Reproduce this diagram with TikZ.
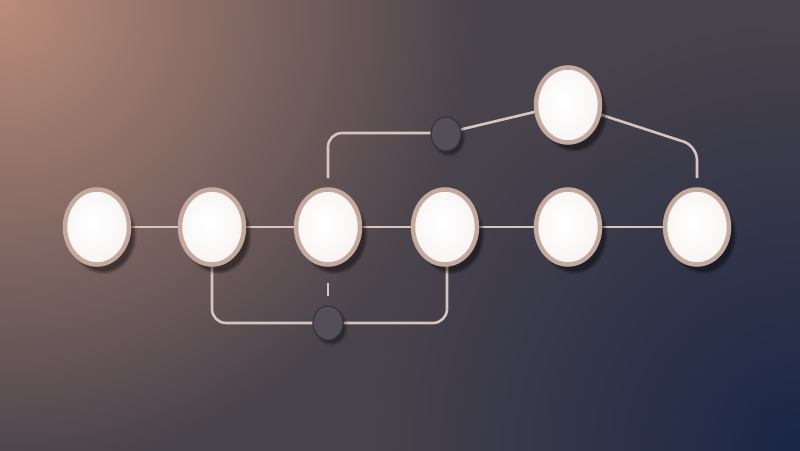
\documentclass[tikz,border=0pt]{standalone}
\usepackage{tikz}
\usetikzlibrary{shapes.geometric, shadows.blur}
\definecolor{bgmid}{HTML}{48424A}
\definecolor{bgwarm}{HTML}{BA8C7A}
\definecolor{bgcold}{HTML}{1A2646}
\definecolor{rim}{HTML}{C4A99F}
\definecolor{wirec}{HTML}{D6C5BE}
\definecolor{hubc}{HTML}{534E57}
\definecolor{hubedge}{HTML}{36333C}
\pgfdeclareradialshading{glow}{\pgfpoint{-3bp}{3bp}}{color(0bp)=(white); color(12bp)=(white!96!rim); color(50bp)=(white!72!rim)}
\begin{document}
\begin{tikzpicture}[x=1pt, y=-1pt,
    bulb/.style={ellipse, minimum width=64pt, minimum height=75pt, shading=glow,
      draw=rim, line width=4.5pt, blur shadow={shadow xshift=6pt, shadow yshift=-8pt, shadow opacity=45, shadow blur steps=8}},
    hub/.style={ellipse, minimum width=30pt, minimum height=34pt, fill=hubc,
      draw=hubedge, line width=1.2pt, blur shadow={shadow xshift=3pt, shadow yshift=-4pt, shadow opacity=40}},
    wire/.style={draw=wirec, line width=2.6pt, rounded corners=14pt}]
      \useasboundingbox (0, 0) rectangle (800, 450);
      \begin{scope}
        \clip (-4, -4) rectangle (804, 454);
        \fill[bgmid] (-4, -4) rectangle (804, 454);
        \shade[inner color=bgwarm, outer color=bgmid] (0, 0) circle (480);
        \shade[inner color=bgcold, outer color=bgmid] (800, 450) circle (430);
      \end{scope}
      \path[wire] (97, 227) -- (697, 227);
      \path[wire] (212, 227) |- (328, 323) -| (447, 227);
      \path[wire] (446, 133) -- (568, 104);
      \path[wire, shorten >=10pt] (446, 133) -| (328, 188);
      \path[wire, shorten >=10pt] (568, 104) -- (697, 146) -- (697, 188);
      \node[bulb] (n1) at (97, 227) {};
      \node[bulb] (n2) at (212, 227) {};
      \node[bulb] (n3) at (328, 227) {};
      \node[bulb] (n4) at (445, 227) {};
      \node[bulb] (n5) at (568, 227) {};
      \node[bulb] (n6) at (697, 227) {};
      \node[bulb] (top) at (568, 105) {};
      \node[hub] (hubA) at (446, 134) {};
      \node[hub] (hubB) at (328, 323) {};
      \path[draw=wirec, line width=2pt, shorten <=16pt, shorten >=9pt] (n3) -- (hubB);
    \end{tikzpicture}
\end{document}
